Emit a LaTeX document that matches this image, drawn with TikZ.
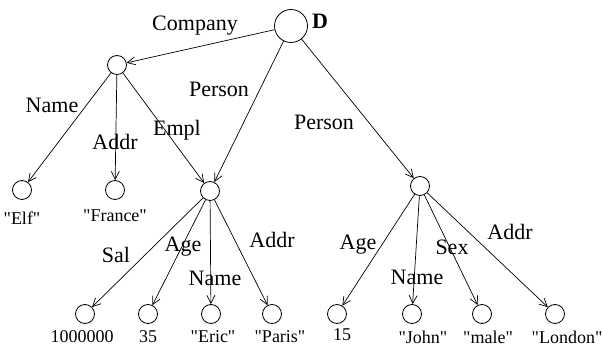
\documentclass[tikz,border=0pt]{standalone}
\usepackage{fontspec}
\setmainfont{Liberation Serif}[Ligatures=TeXOff]
\usetikzlibrary{arrows.meta}
\begin{document}
\begin{tikzpicture}[x=1pt,y=-1pt,
  obj/.style={circle,draw,line width=0.8pt,minimum size=19pt,inner sep=0pt},
  edge/.style={line width=0.7pt,-{Straight Barb[length=8pt,width=8pt,line width=0.7pt]}},
  lab/.style={font=\fontsize{22}{24}\selectfont,inner sep=0pt},
  val/.style={font=\fontsize{18}{20}\selectfont,inner sep=0pt}]
\useasboundingbox (0,0) rectangle (603,347);
% nodes
\node[obj,minimum size=33pt] (d) at (291,26) {};
\node[font=\bfseries\fontsize{22}{24}\selectfont,inner sep=0pt] (dl) at (320,21) {D};
\node[obj] (c) at (117,65) {};
\node[obj] (elf) at (22,190) {};
\node[obj] (fr) at (115,190) {};
\node[obj] (e) at (210,191) {};
\node[obj] (p) at (420,186) {};
\node[obj] (sal) at (85,314) {};
\node[obj] (a35) at (148,314) {};
\node[obj] (eric) at (211,314) {};
\node[obj] (paris) at (272,314) {};
\node[obj] (a15) at (337,314) {};
\node[obj] (john) at (412,314) {};
\node[obj] (male) at (482,314) {};
\node[obj] (london) at (555,314) {};
% value labels
\node[val] (lelf) at (22,218) {"Elf"};
\node[val] (lfr) at (115,216) {"France"};
\node[val] (lsal) at (82,337) {1000000};
\node[val] (l35) at (148,337) {35};
\node[val] (leric) at (213,337) {"Eric"};
\node[val] (lparis) at (280,337) {"Paris"};
\node[val] (l15) at (342,335) {15};
\node[val] (ljohn) at (423,337) {"John"};
\node[val] (lmale) at (488,337) {"male"};
\node[val] (llondon) at (567,337) {"London"};
% edges
\draw[edge] (d) -- (c);
\draw[edge] (d) -- (e);
\draw[edge] (d) -- (p);
\draw[edge] (c) -- (elf);
\draw[edge] (c) -- (fr);
\draw[edge] (c) -- (e);
\draw[edge] (e) -- (sal);
\draw[edge] (e) -- (a35);
\draw[edge] (e) -- (eric);
\draw[edge] (e) -- (paris);
\draw[edge] (p) -- (a15);
\draw[edge] (p) -- (john);
\draw[edge] (p) -- (male);
\draw[edge] (p) -- (london);
% edge labels
\node[lab] (tcomp) at (195,26) {Company};
\node[lab] (tname1) at (52,105) {Name};
\node[lab] (taddr1) at (115,142) {Addr};
\node[lab] (templ) at (177,130) {Empl};
\node[lab] (tpers1) at (219,89) {Person};
\node[lab] (tpers2) at (324,122) {Person};
\node[lab] (tsal) at (116,255) {Sal};
\node[lab] (tage1) at (183,247) {Age};
\node[lab] (tname2) at (215,278) {Name};
\node[lab] (taddr2) at (272,240) {Addr};
\node[lab] (tage2) at (358,245) {Age};
\node[lab] (tname3) at (417,277) {Name};
\node[lab] (tsex) at (452,247) {Sex};
\node[lab] (taddr3) at (510,232) {Addr};
\end{tikzpicture}
\end{document}
